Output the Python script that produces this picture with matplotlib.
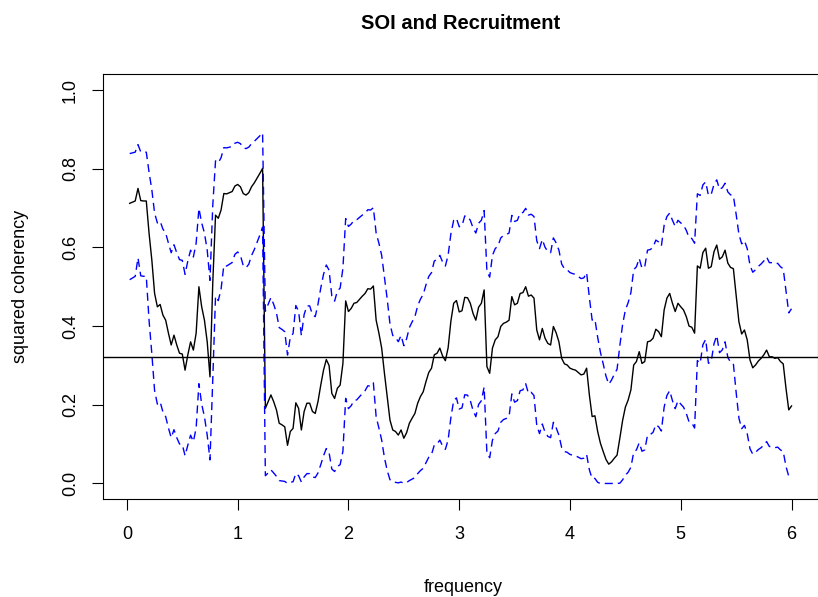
import numpy as np
import matplotlib
matplotlib.use("Agg")
import matplotlib.pyplot as plt

plt.rcParams["font.family"] = ["Liberation Sans", "DejaVu Sans"]

# squared coherency between SOI and Recruitment, frequencies 0.025 .. 6 (cycles per year)
coh = [
    0.712, 0.715, 0.718, 0.750, 0.719, 0.718, 0.718, 0.636, 0.568, 0.483,
    0.449, 0.455, 0.428, 0.415, 0.382, 0.352, 0.377, 0.352, 0.331, 0.329,
    0.288, 0.327, 0.360, 0.339, 0.382, 0.500, 0.449, 0.415, 0.360, 0.271,
    0.509, 0.682, 0.674, 0.695, 0.737, 0.736, 0.739, 0.742, 0.756, 0.760,
    0.754, 0.737, 0.733, 0.739, 0.754, 0.764, 0.776, 0.788, 0.801, 0.191,
    0.208, 0.225, 0.208, 0.187, 0.153, 0.149, 0.144, 0.097, 0.132, 0.140,
    0.205, 0.191, 0.136, 0.183, 0.204, 0.204, 0.183, 0.178, 0.208, 0.250,
    0.288, 0.315, 0.300, 0.229, 0.216, 0.242, 0.250, 0.305, 0.464, 0.437,
    0.445, 0.458, 0.460, 0.468, 0.476, 0.483, 0.495, 0.494, 0.502, 0.415,
    0.382, 0.344, 0.280, 0.221, 0.161, 0.136, 0.132, 0.123, 0.136, 0.115,
    0.129, 0.153, 0.166, 0.178, 0.204, 0.221, 0.233, 0.259, 0.282, 0.293,
    0.327, 0.331, 0.344, 0.324, 0.312, 0.345, 0.413, 0.458, 0.465, 0.436,
    0.439, 0.473, 0.472, 0.458, 0.432, 0.415, 0.448, 0.458, 0.492, 0.297,
    0.280, 0.344, 0.365, 0.373, 0.399, 0.407, 0.410, 0.415, 0.475, 0.454,
    0.458, 0.483, 0.485, 0.500, 0.476, 0.479, 0.471, 0.390, 0.365, 0.394,
    0.369, 0.356, 0.352, 0.399, 0.383, 0.360, 0.318, 0.304, 0.301, 0.293,
    0.290, 0.288, 0.282, 0.276, 0.278, 0.293, 0.225, 0.170, 0.172, 0.132,
    0.102, 0.081, 0.061, 0.049, 0.055, 0.064, 0.072, 0.115, 0.160, 0.194,
    0.212, 0.238, 0.301, 0.310, 0.335, 0.305, 0.310, 0.360, 0.362, 0.369,
    0.392, 0.386, 0.373, 0.441, 0.471, 0.483, 0.458, 0.437, 0.458, 0.449,
    0.441, 0.424, 0.400, 0.397, 0.382, 0.553, 0.547, 0.587, 0.598, 0.547,
    0.551, 0.589, 0.606, 0.570, 0.576, 0.593, 0.560, 0.549, 0.546, 0.479,
    0.411, 0.380, 0.390, 0.365, 0.314, 0.294, 0.301, 0.311, 0.318, 0.327,
    0.339, 0.322, 0.322, 0.318, 0.320, 0.310, 0.304, 0.242, 0.187, 0.197,
]
freq = np.linspace(0.025, 6.0, len(coh))

df = 35.8625          # equivalent degrees of freedom of the smoothed spectrum
ci = 0.95
sig_level = 0.321517  # F-based significance threshold for coherence

xticks = [0, 1, 2, 3, 4, 5, 6]
yticks = [0.0, 0.2, 0.4, 0.6, 0.8, 1.0]
ytick_labels = ["0.0", "0.2", "0.4", "0.6", "0.8", "1.0"]

# pointwise confidence band via Fisher's z transform
coh = np.array(coh)
se = np.sqrt(1.0 / df)
z = 1.959964
r = np.minimum(0.99999, np.sqrt(coh))
upper = np.tanh(np.arctanh(r) + z * se) ** 2
lower = np.maximum(0, np.tanh(np.arctanh(r) - z * se)) ** 2

W, H = 818, 597
fig = plt.figure(figsize=(W / 100, H / 100), dpi=100)
left, right, top, bottom = 103.2, 818.0, 74.3, 499.2
ax = fig.add_axes([left / W, 1 - bottom / H, (right - left) / W, (bottom - top) / H])

ax.plot(freq, coh, color="black", lw=1.0)
ax.plot(freq, upper, color="blue", lw=1.0, dashes=(5.8, 3.6))
ax.plot(freq, lower, color="blue", lw=1.0, dashes=(5.8, 3.6))
ax.axhline(sig_level, color="black", lw=1.0)

span = freq.max() - freq.min()
ax.set_xlim(freq.min() - 0.04 * span, freq.max() + 0.04 * span)
ax.set_ylim(-0.04, 1.04)

ax.set_xticks(xticks)
ax.set_yticks(yticks)
ax.set_yticklabels(ytick_labels, rotation=90, va="center")
ax.tick_params(axis="both", direction="out", length=8, width=0.8, labelsize=13, color="black")
ax.tick_params(axis="x", pad=11.5)
ax.tick_params(axis="y", pad=9.5)
for s in ax.spines.values():
    s.set_linewidth(0.8)

ax.set_xlabel("frequency", fontsize=13)
ax.xaxis.set_label_coords((463 - left) / (right - left), -(587 - bottom) / (bottom - top))
ax.xaxis.label.set_va("center")
ax.set_ylabel("squared coherency", fontsize=13)
ax.yaxis.set_label_coords(-(left - 20) / (right - left), 0.5)
ax.yaxis.label.set_va("center")

ax.set_title("SOI and Recruitment", fontsize=14.5, fontweight="bold",
             y=(bottom - 23) / (bottom - top), va="center", pad=0)

fig.savefig("out.png", dpi=100)
